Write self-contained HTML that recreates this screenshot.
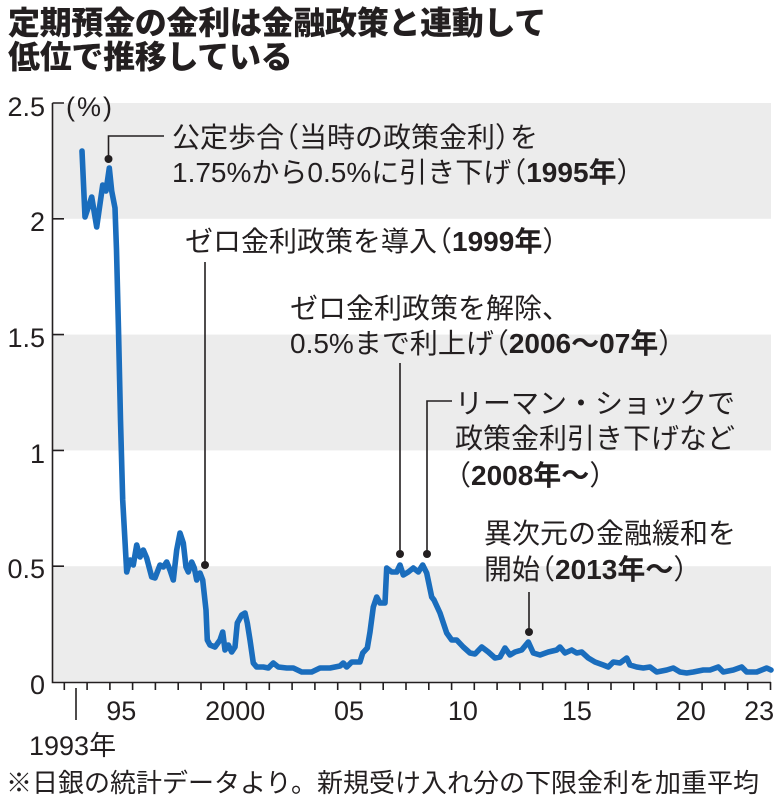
<!DOCTYPE html>
<html><head><meta charset="utf-8"><style>
html,body{margin:0;padding:0;background:#fff;}
svg{display:block;}
text{font-family:"Liberation Sans","Noto Sans CJK JP",sans-serif;fill:#231f20;}
</style></head><body>
<svg width="781" height="800" viewBox="0 0 781 800" xmlns="http://www.w3.org/2000/svg">
<rect x="0" y="0" width="781" height="800" fill="#fff"/>
<!-- title -->
<text x="8" y="34" font-size="32" font-weight="900" letter-spacing="-0.3">定期預金の金利は金融政策と連動して</text>
<text x="8" y="68" font-size="32" font-weight="900" letter-spacing="-0.3">低位で推移している</text>
<!-- bands -->
<rect x="53" y="103" width="718" height="115.8" fill="#ececec"/>
<rect x="53" y="334.6" width="718" height="115.8" fill="#ececec"/>
<rect x="53" y="566.2" width="718" height="115.8" fill="#ececec"/>
<!-- axes -->
<path d="M52.5 103 V682.5 H771" fill="none" stroke="#231f20" stroke-width="1.6"/>
<path d="M52.5 103 H64 M52.5 218.8 H64 M52.5 334.6 H64 M52.5 450.4 H64 M52.5 566.2 H64" stroke="#231f20" stroke-width="1.6"/>
<path d="M64.3 682 v8 M87.1 682 v8 M109.9 682 v8 M132.6 682 v8 M155.4 682 v8 M178.2 682 v8 M201 682 v8 M223.8 682 v8 M246.5 682 v8 M269.3 682 v8 M292.1 682 v8 M314.9 682 v8 M337.7 682 v8 M360.4 682 v8 M383.2 682 v8 M406 682 v8 M428.8 682 v8 M451.6 682 v8 M474.3 682 v8 M497.1 682 v8 M519.9 682 v8 M542.7 682 v8 M565.5 682 v8 M588.2 682 v8 M611 682 v8 M633.8 682 v8 M656.6 682 v8 M679.4 682 v8 M702.1 682 v8 M724.9 682 v8 M747.7 682 v8 M770.5 682 v8" stroke="#231f20" stroke-width="1.6"/>
<path d="M76 688 V720" stroke="#231f20" stroke-width="1.6"/>
<!-- y labels -->
<g font-size="27" text-anchor="end">
<text x="45" y="116">2.5</text>
<text x="45" y="231">2</text>
<text x="45" y="347">1.5</text>
<text x="45" y="463">1</text>
<text x="45" y="578">0.5</text>
<text x="45" y="694">0</text>
</g>
<text x="66" y="116" font-size="27" letter-spacing="2">(%)</text>
<!-- x labels -->
<g font-size="27" text-anchor="middle">
<text x="121.3" y="720">95</text>
<text x="235.2" y="720">2000</text>
<text x="349" y="720">05</text>
<text x="462.9" y="720">10</text>
<text x="576.9" y="720">15</text>
<text x="690.7" y="720">20</text>
<text x="759.1" y="720">23</text>
</g>
<text x="29" y="755" font-size="27">1993年</text>
<!-- data line -->
<polyline fill="none" stroke="#1a6dbd" stroke-width="5.6" stroke-linejoin="round" stroke-linecap="round" points="82,151 85,217 91.7,197 96.7,227 102.7,185 106,191 109.3,168 111.7,191 115,208 116.5,250 118.5,330 120.5,420 122.7,500 126.7,572 130,560 133.3,565 136.7,545 140,557 143.3,550 146.7,558 151.7,577 155,578 160,565 163.3,567 166.7,562 170,570 173.3,580 176.7,550 180,533 183.3,543 186,567 188.3,572 191.7,562 194.3,568 196.7,580 200,573 202.7,580 206,610 207.3,640 210,645 215,647 220,640 222.7,632 225,650 228.3,645 231.7,652 235,647 237.3,623 241.7,615 245,613 247.3,623 250,640 253.3,663 256.7,667 263.3,667 268.3,668 273.3,663 278.3,667 286.7,668 293.3,668 301.7,672 311.7,672 320,668 330,668 340,666 343.3,663 346.7,667 351.7,662 360,662 362.7,653 367.3,648 370,632 373.3,607 376.7,597 380,603 385,603 386.7,568 391.7,572 396.7,572 400,565 403.3,575 408.3,572 413.3,568 418.3,572 422.7,565 426.7,573 431.7,597 434,600 440,613 446.7,633 451.7,640 456.7,640 463.3,647 470,653 475,654 481.7,647 488.3,652 495,658 500,657 505,648 510,655 515,652 521.7,650 528.3,642 533.3,653 540,655 548.3,652 556.7,650 560,647 565,653 571.7,650 576.7,653 581.7,652 588.3,658 595,662 603.3,665 608.3,667 613.3,662 620,663 626.7,658 630,665 636.7,667 643.3,668 650,667 656.7,672 666.7,670 673.3,668 680,672 686.7,673 693.3,672 703.3,670 710,670 718.3,667 723.3,672 733.3,670 741.7,667 746.7,672 756.7,672 766.7,668 771,670"/>
<!-- leaders -->
<g stroke="#231f20" stroke-width="1.6" fill="none">
<path d="M108.5 159 V136 H164"/>
<path d="M205 565 V262"/>
<path d="M400 554 V363"/>
<path d="M427 554 V401 H452"/>
<path d="M529 632 V592"/>
</g>
<g fill="#231f20">
<circle cx="108.5" cy="159" r="4"/>
<circle cx="205" cy="565" r="4"/>
<circle cx="400" cy="554" r="4"/>
<circle cx="427" cy="554" r="4"/>
<circle cx="529" cy="632" r="4"/>
</g>
<!-- annotations -->
<g font-size="28">
<text x="172" y="147">公定歩合<tspan dx="-13">（</tspan>当時の政策金利）<tspan dx="-13">を</tspan></text>
<text x="172" y="182">1.75%から0.5%に引き下げ<tspan dx="-13">（</tspan><tspan font-weight="700">1995年</tspan>）</text>
<text x="185" y="251">ゼロ金利政策を導入<tspan dx="-13">（</tspan><tspan font-weight="700">1999年</tspan>）</text>
<text x="290" y="318">ゼロ金利政策を解除、</text>
<text x="290" y="353">0.5%まで利上げ<tspan dx="-13">（</tspan><tspan font-weight="700">2006〜07年</tspan>）</text>
<text x="455" y="413">リーマン・ショックで</text>
<text x="455" y="448">政策金利引き下げなど</text>
<text x="455" y="485"><tspan dx="-12">（</tspan><tspan font-weight="700">2008年〜</tspan>）</text>
<text x="484" y="543">異次元の金融緩和を</text>
<text x="484" y="579">開始<tspan dx="-13">（</tspan><tspan font-weight="700">2013年〜</tspan>）</text>
</g>
<!-- footnote -->
<text x="6" y="792" font-size="26">※日銀の統計データより。新規受け入れ分の下限金利を加重平均</text>
</svg>
</body></html>
